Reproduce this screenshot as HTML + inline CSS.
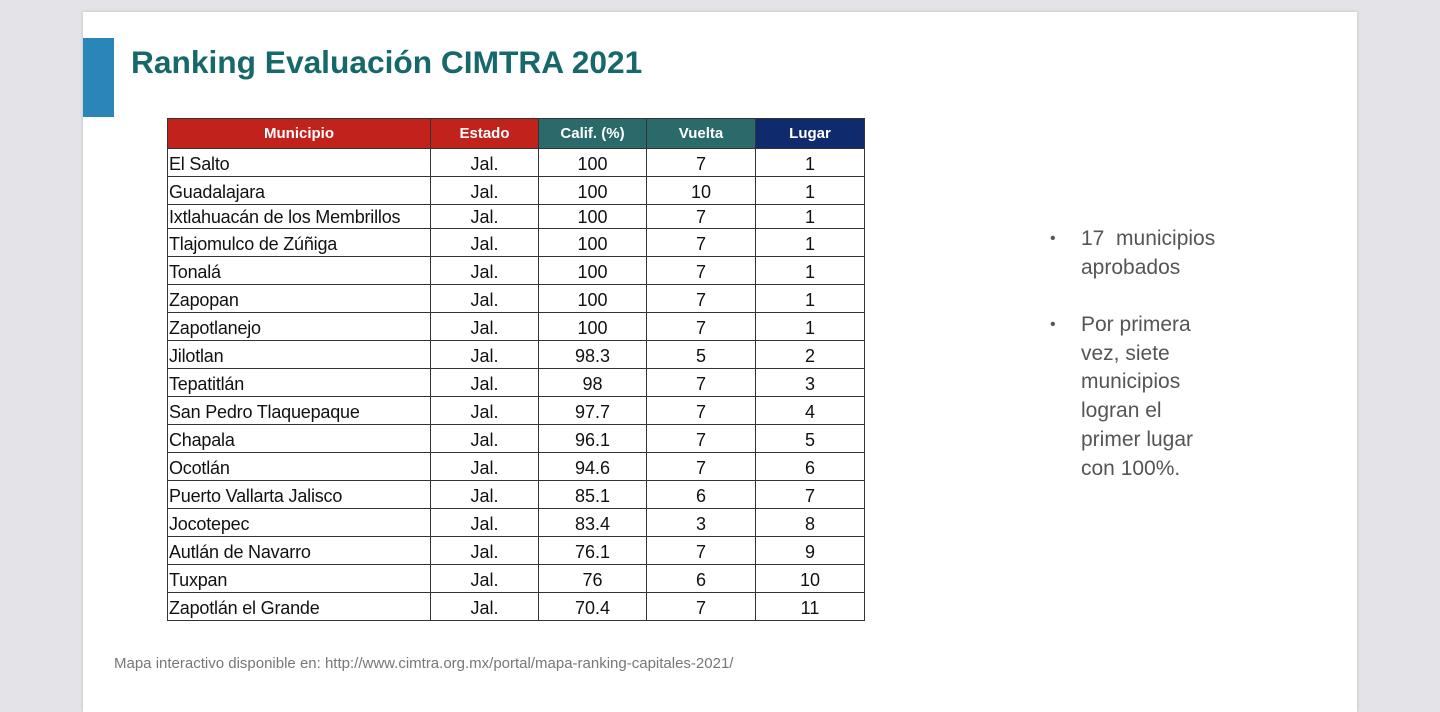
<!DOCTYPE html>
<html><head><meta charset="utf-8"><style>
body{margin:0;width:1440px;height:665px;background:#e4e4e8;position:relative;overflow:hidden;font-family:"Liberation Sans",sans-serif}
.slide{position:absolute;left:83px;top:12px;width:1274px;height:700px;background:#fff;box-shadow:0 0 3px #bbb}
.bar{position:absolute;left:83px;top:38px;width:31px;height:79px;background:#2a86b8}
.title{position:absolute;left:131px;top:44px;font-family:"Liberation Sans",sans-serif;font-weight:bold;font-size:31.7px;color:#17686a}
table{position:absolute;left:167px;top:118px;border-collapse:collapse;font-size:18px;color:#111}
td,th{border:1px solid #333;padding:0;height:27px;line-height:27px}
th{color:#fff;font-size:15px;height:29px}
td{text-align:center;vertical-align:bottom;line-height:24px}
td:first-child{text-align:left;padding-left:1px;letter-spacing:-0.2px}
.r3 td{height:23px;line-height:22px}
.side{position:absolute;left:1050px;color:#555;font-size:21px;line-height:28.7px}
.side div{position:relative;padding-left:31px}
.side div:before{content:"•";position:absolute;left:0;font-size:16px}
.foot{position:absolute;left:114px;top:655px;font-size:15px;color:#777}
</style></head><body>
<div class="slide"></div>
<div class="bar"></div>
<div class="title">Ranking Evaluación CIMTRA 2021</div>
<table>
<tr><th style="width:262px;background:#c1221b">Municipio</th><th style="width:107px;background:#c1221b">Estado</th><th style="width:107px;background:#2b6a6a">Calif. (%)</th><th style="width:108px;background:#2b6a6a">Vuelta</th><th style="width:108px;background:#102a6e">Lugar</th></tr>
<tr><td>El Salto</td><td>Jal.</td><td>100</td><td>7</td><td>1</td></tr>
<tr><td>Guadalajara</td><td>Jal.</td><td>100</td><td>10</td><td>1</td></tr>
<tr class="r3"><td>Ixtlahuacán de los Membrillos</td><td>Jal.</td><td>100</td><td>7</td><td>1</td></tr>
<tr><td>Tlajomulco de Zúñiga</td><td>Jal.</td><td>100</td><td>7</td><td>1</td></tr>
<tr><td>Tonalá</td><td>Jal.</td><td>100</td><td>7</td><td>1</td></tr>
<tr><td>Zapopan</td><td>Jal.</td><td>100</td><td>7</td><td>1</td></tr>
<tr><td>Zapotlanejo</td><td>Jal.</td><td>100</td><td>7</td><td>1</td></tr>
<tr><td>Jilotlan</td><td>Jal.</td><td>98.3</td><td>5</td><td>2</td></tr>
<tr><td>Tepatitlán</td><td>Jal.</td><td>98</td><td>7</td><td>3</td></tr>
<tr><td>San Pedro Tlaquepaque</td><td>Jal.</td><td>97.7</td><td>7</td><td>4</td></tr>
<tr><td>Chapala</td><td>Jal.</td><td>96.1</td><td>7</td><td>5</td></tr>
<tr><td>Ocotlán</td><td>Jal.</td><td>94.6</td><td>7</td><td>6</td></tr>
<tr><td>Puerto Vallarta Jalisco</td><td>Jal.</td><td>85.1</td><td>6</td><td>7</td></tr>
<tr><td>Jocotepec</td><td>Jal.</td><td>83.4</td><td>3</td><td>8</td></tr>
<tr><td>Autlán de Navarro</td><td>Jal.</td><td>76.1</td><td>7</td><td>9</td></tr>
<tr><td>Tuxpan</td><td>Jal.</td><td>76</td><td>6</td><td>10</td></tr>
<tr><td>Zapotlán el Grande</td><td>Jal.</td><td>70.4</td><td>7</td><td>11</td></tr>
</table>
<div class="side" style="top:225px"><div>17&nbsp; municipios<br>aprobados</div></div>
<div class="side" style="top:311px"><div>Por primera<br>vez, siete<br>municipios<br>logran el<br>primer lugar<br>con 100%.</div></div>
<div class="foot">Mapa interactivo disponible en: http://www.cimtra.org.mx/portal/mapa-ranking-capitales-2021/</div>
</body></html>
